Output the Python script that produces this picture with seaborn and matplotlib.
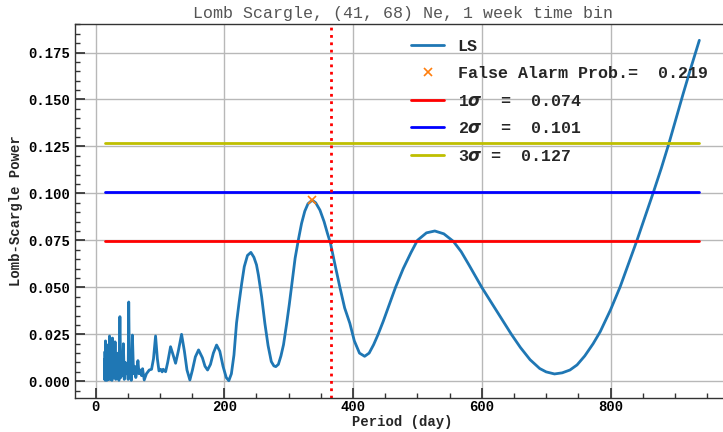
import matplotlib

matplotlib.use("Agg")

import matplotlib.pyplot as plt
import pandas as pd
import seaborn as sns
from matplotlib.ticker import AutoMinorLocator, MultipleLocator

# Lomb-Scargle periodogram (period in days, power)
period = [
    14.0, 14.3, 14.7, 15.0, 15.4, 15.8, 16.2, 16.6, 17.1, 17.6,
    18.1, 18.6, 19.2, 19.8, 20.4, 21.0, 21.7, 22.4, 23.1, 23.9,
    24.7, 25.5, 26.4, 27.3, 28.3, 29.3, 30.3, 31.4, 32.5, 33.7,
    35.0, 36.3, 37.8, 39.2, 40.7, 42.0, 43.2, 44.6, 46.2, 47.9,
    49.6, 50.6, 51.5, 52.8, 54.2, 55.5, 57.2, 59.0, 60.8, 62.5,
    64.0, 65.8, 67.5, 69.5, 71.5, 73.0, 75.6, 79.0, 83.4, 87.0,
    90.0, 93.2, 96.0, 98.5, 101.0, 103.5, 105.0, 108.8, 112.0, 116.5,
    120.5, 124.3, 128.5, 133.6, 138.0, 142.0, 146.5, 150.5, 155.0, 160.0,
    166.0, 170.0, 174.0, 178.5, 183.0, 188.0, 193.0, 198.0, 203.0, 207.0,
    211.0, 215.0, 219.0, 223.0, 227.0, 231.0, 236.0, 241.3, 246.0, 250.0,
    253.0, 258.0, 263.0, 268.0, 273.0, 277.0, 280.0, 284.0, 288.0, 292.0,
    297.0, 301.0, 305.0, 310.0, 315.0, 320.0, 325.0, 330.0, 336.6, 342.0,
    348.6, 355.0, 360.0, 365.0, 372.0, 379.6, 387.0, 395.0, 402.0, 410.0,
    418.0, 425.0, 432.0, 439.0, 447.0, 456.0, 466.0, 478.0, 490.0, 500.0,
    514.0, 527.0, 541.0, 555.8, 568.0, 580.0, 590.0, 600.0, 612.0, 623.0,
    635.0, 646.0, 660.0, 675.0, 690.0, 700.0, 713.0, 725.0, 737.0, 748.0,
    760.0, 773.0, 784.0, 800.0, 815.0, 830.0, 840.7, 853.0, 866.5, 879.0,
    891.0, 902.0, 913.0, 925.0, 938.0,
]
power = [
    0.0155, 0.0010, 0.0120, 0.0005, 0.0215, 0.0010, 0.0160, 0.0020, 0.0195, 0.0005,
    0.0120, 0.0030, 0.0190, 0.0010, 0.0140, 0.0020, 0.0241, 0.0010, 0.0180, 0.0030,
    0.0225, 0.0005, 0.0230, 0.0020, 0.0160, 0.0040, 0.0210, 0.0010, 0.0120, 0.0050,
    0.0150, 0.0005, 0.0344, 0.0020, 0.0110, 0.0030, 0.0200, 0.0010, 0.0100, 0.0040,
    0.0090, 0.0010, 0.0422, 0.0020, 0.0130, 0.0005, 0.0246, 0.0040, 0.0080, 0.0020,
    0.0050, 0.0110, 0.0040, 0.0060, 0.0030, 0.0067, 0.0007, 0.0040, 0.0060, 0.0064,
    0.0120, 0.0241, 0.0120, 0.0055, 0.0064, 0.0050, 0.0064, 0.0051, 0.0100, 0.0184,
    0.0140, 0.0096, 0.0160, 0.0250, 0.0160, 0.0060, 0.0007, 0.0060, 0.0130, 0.0167,
    0.0125, 0.0080, 0.0060, 0.0090, 0.0150, 0.0193, 0.0160, 0.0080, 0.0020, 0.0003,
    0.0040, 0.0140, 0.0310, 0.0420, 0.0520, 0.0610, 0.0670, 0.0686, 0.0660, 0.0620,
    0.0565, 0.0450, 0.0309, 0.0190, 0.0105, 0.0082, 0.0078, 0.0090, 0.0135, 0.0195,
    0.0310, 0.0410, 0.0520, 0.0655, 0.0752, 0.0840, 0.0905, 0.0945, 0.0964, 0.0950,
    0.0911, 0.0850, 0.0790, 0.0734, 0.0620, 0.0500, 0.0390, 0.0309, 0.0215, 0.0150,
    0.0133, 0.0150, 0.0195, 0.0250, 0.0320, 0.0405, 0.0500, 0.0600, 0.0685, 0.0750,
    0.0790, 0.0800, 0.0785, 0.0745, 0.0690, 0.0620, 0.0560, 0.0500, 0.0435, 0.0375,
    0.0310, 0.0250, 0.0180, 0.0115, 0.0068, 0.0050, 0.0039, 0.0045, 0.0060, 0.0087,
    0.0135, 0.0200, 0.0264, 0.0380, 0.0503, 0.0645, 0.0746, 0.0870, 0.1005, 0.1135,
    0.1269, 0.1400, 0.1532, 0.1670, 0.1815,
]

peak_period = [336.6]
peak_power = [0.0964]
fap = 0.219

sigma_names = ["1$\\sigma$  =  ", "2$\\sigma$  =  ", "3$\\sigma$ =  "]
sigma_levels = [0.0745, 0.1005, 0.127]
sigma_texts = ["0.074", "0.101", "0.127"]
sigma_colors = ["#ff0000", "#0000ff", "#bfbf00"]

one_year = 365

df = pd.DataFrame({"period": period, "power": power})

sns.set_theme(
    style="whitegrid",
    rc={
        "axes.edgecolor": "#333333",
        "axes.linewidth": 1.0,
        "grid.color": "#b8b8b8",
        "grid.linewidth": 1.0,
        "xtick.bottom": True,
        "ytick.left": True,
        "xtick.direction": "in",
        "ytick.direction": "in",
        "xtick.major.size": 7,
        "ytick.major.size": 7,
        "xtick.minor.size": 3.5,
        "ytick.minor.size": 3.5,
        "xtick.minor.visible": True,
        "ytick.minor.visible": True,
        "xtick.major.pad": 1.0,
        "xtick.color": "#333333",
        "ytick.color": "#333333",
        "xtick.labelcolor": "black",
        "ytick.labelcolor": "black",
    },
)
plt.rcParams["font.family"] = ["Liberation Mono", "DejaVu Sans"]
plt.rcParams["font.weight"] = "bold"
plt.rcParams["axes.labelweight"] = "bold"
plt.rcParams["mathtext.fontset"] = "custom"
plt.rcParams["mathtext.it"] = "DejaVu Sans:italic:bold"
plt.rcParams["mathtext.rm"] = "DejaVu Sans:bold"

fig = plt.figure(figsize=(7.23, 4.32), dpi=100)
ax = fig.add_axes([0.1037, 0.078, 0.9063, 0.867])

sns.lineplot(data=df, x="period", y="power", ax=ax, color="#1f77b4", lw=2, label="LS")
ax.plot(peak_period, peak_power, "x", color="#ff7f0e", ms=6, mew=1.2,
        label=f"False Alarm Prob.=  {fap:.3f}", zorder=4)

x0, x1 = min(period), max(period)
for name, lvl, txt, col in zip(sigma_names, sigma_levels, sigma_texts, sigma_colors):
    ax.plot([x0, x1], [lvl, lvl], color=col, lw=2, label=name + txt)

ax.axvline(one_year, color="red", ls=":", lw=2)

ax.set_xlim(-32, 986)
ax.set_ylim(-0.00906, 0.1903)
ax.xaxis.set_major_locator(MultipleLocator(200))
ax.xaxis.set_minor_locator(AutoMinorLocator(4))
ax.yaxis.set_major_locator(MultipleLocator(0.025))
ax.yaxis.set_minor_locator(AutoMinorLocator(5))
ax.grid(True, which="major")
ax.tick_params(labelsize=10)
for lab in ax.get_xticklabels() + ax.get_yticklabels():
    lab.set_fontweight("bold")

ax.set_xlabel("Period (day)", fontsize=10, fontweight="bold", labelpad=1)
ax.set_ylabel("Lomb-Scargle Power", fontsize=10, fontweight="bold")
ax.set_title("Lomb Scargle, (41, 68) Ne, 1 week time bin", fontsize=12,
             fontweight="normal", color="#555555", pad=4)

ax.legend(loc="upper left", bbox_to_anchor=(0.49, 1.0), frameon=False,
          labelspacing=0.75, prop={"size": 12, "weight": "bold"})

fig.savefig("out.png", dpi=100)
